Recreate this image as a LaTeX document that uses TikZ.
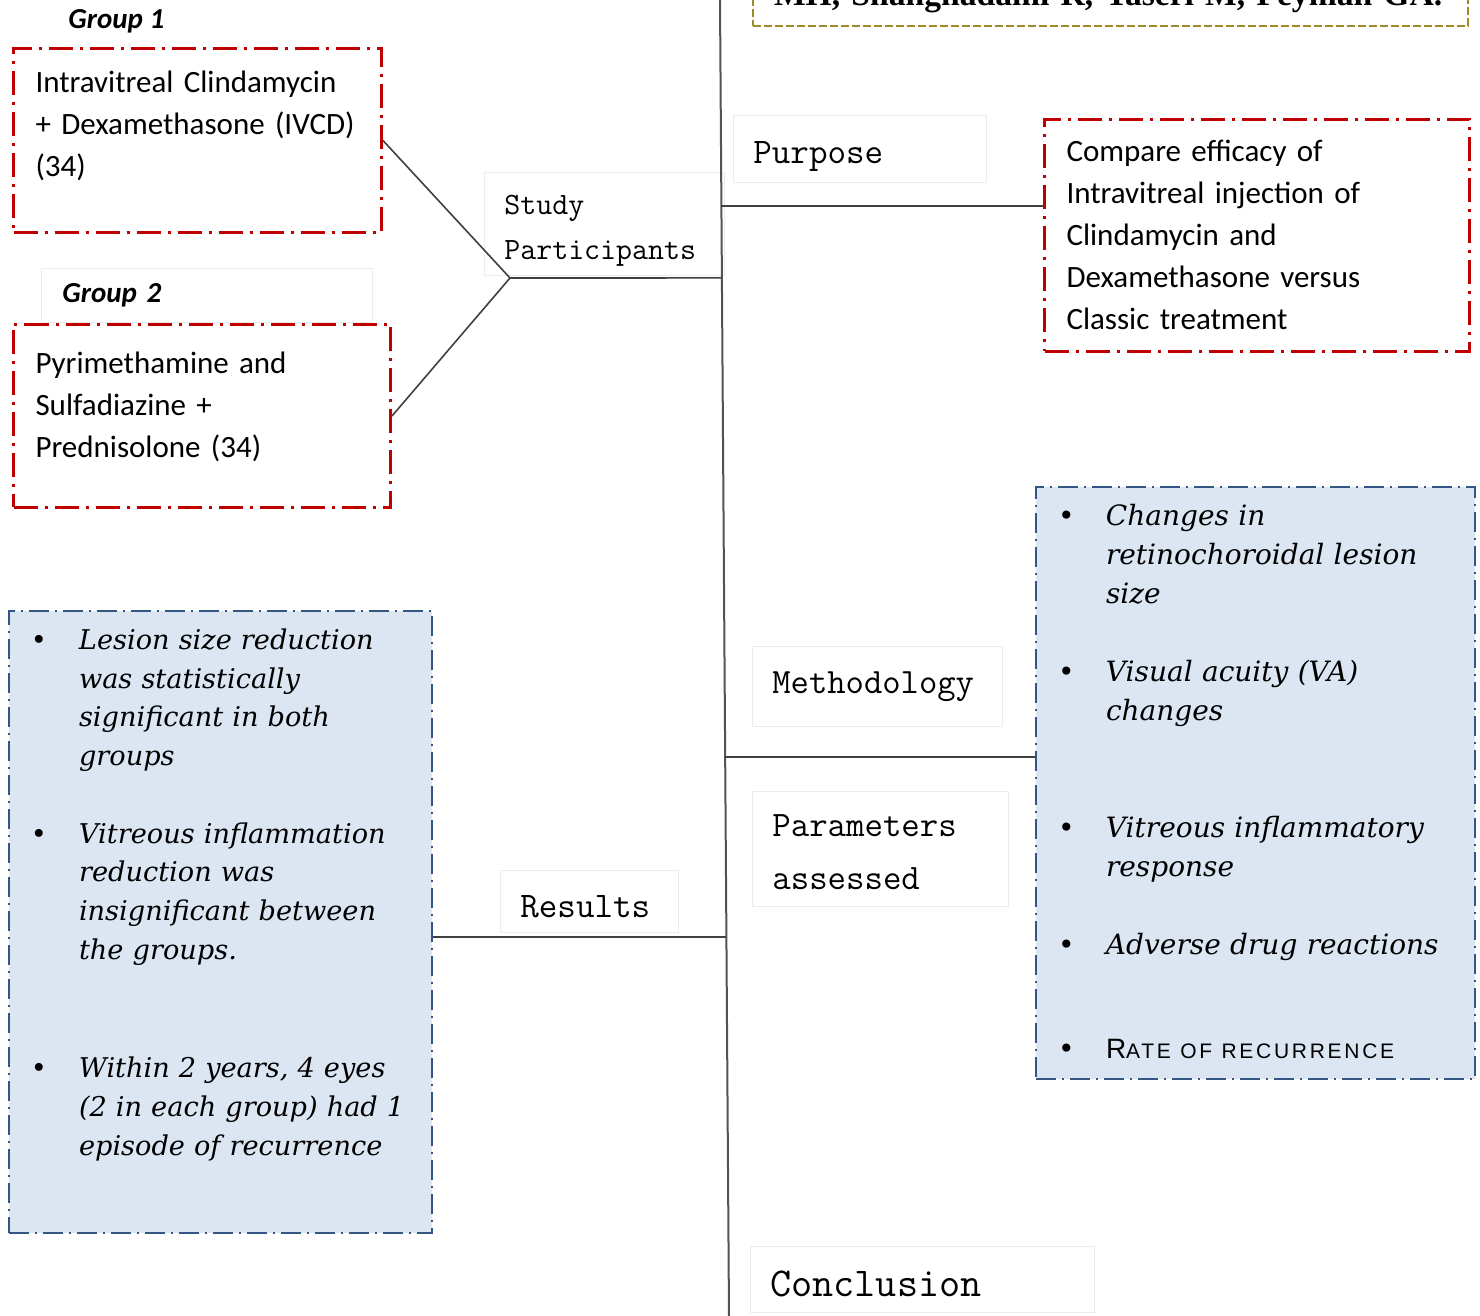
\documentclass[tikz,border=0pt]{standalone}
\usepackage{fontspec}
\setmainfont{Carlito}
\newfontfamily\notefont{DejaVu Serif}
\newfontfamily\authorfont{Liberation Serif}
\newfontfamily\capsfont[LetterSpace=13]{Liberation Sans}
\usepackage{tikz}
\usetikzlibrary{positioning,calc}
\definecolor{BoxRed}{RGB}{192,0,0}
\definecolor{BoxBlue}{RGB}{52,86,130}
\definecolor{PaleBlue}{RGB}{220,230,242}
\definecolor{AuthOlive}{RGB}{158,138,38}
\definecolor{LineGray}{RGB}{64,64,64}

% bullet and hanging indent for the lists
\newcommand{\bul}{\makebox[25pt][l]{\hspace{1pt}\textbullet}}
\newcommand{\ind}{\hspace*{25pt}}
\newcommand{\headfont}{\ttfamily\addfontfeature{FakeBold=1.2}}

\begin{document}
\begin{tikzpicture}[
    x=0.5pt, y=-0.5pt,
    drugbox/.style={rectangle, draw=BoxRed, line width=1.5pt,
        dash pattern=on 12pt off 3.5pt on 1.5pt off 3.5pt,
        anchor=north west, align=left, inner xsep=11pt, inner ysep=10pt,
        font=\fontsize{15.5}{21}\selectfont},
    findbox/.style={rectangle, draw=BoxBlue, fill=PaleBlue, line width=1pt,
        dash pattern=on 10pt off 3pt on 1pt off 3pt,
        anchor=north west, align=left, inner xsep=10pt, inner ysep=10pt,
        font=\notefont\itshape\fontsize{14}{19.5}\selectfont},
    headbox/.style={rectangle, draw=gray!15, fill=white, anchor=north west,
        align=left, inner xsep=10pt, inner ysep=0pt},
    grp/.style={headbox, inner xsep=10.5pt, font=\bfseries\itshape\fontsize{14.5}{17}\selectfont},
    authbox/.style={rectangle, draw=AuthOlive, line width=1pt, dash pattern=on 4pt off 1.5pt,
        anchor=south west, align=left, inner xsep=10.5pt, inner ysep=10pt, text depth=0pt,
        font=\authorfont\bfseries\fontsize{16.8}{20}\selectfont},
    link/.style={draw=LineGray, line width=0.8pt},
    spine/.style={draw=LineGray!90, line width=1pt}
]
\clip (0,0) rectangle (1480,1316);
\fill[white] (0,0) rectangle (1480,1316);

% citation box, cut by the top edge
\node[authbox, text width=336.5pt] (auth) at (752,27) {MH, Shahghadami R, Yaseri M, Peyman GA.};

% groups
\node[grp, draw=none, anchor=west, minimum height=27pt] (lab1) at (47,21) {Group 1};
\node[drugbox, text width=162pt, text height=12pt, text depth=60pt] (g1) at (12,47)
    {Intravitreal Clindamycin\\+ Dexamethasone (IVCD)\\(34)};
\node[grp, text width=144.5pt, minimum height=27pt] (lab2) at (41,268) {Group 2};
\node[drugbox, text width=166.5pt, text height=14.5pt, text depth=57pt] (g2) at (12,323)
    {Pyrimethamine and\\Sulfadiazine +\\Prednisolone (34)};

% headings
\node[headbox, text width=100pt, minimum height=51.5pt, text height=16.6pt, text depth=25.9pt,
    font=\headfont\fontsize{15.5}{22.5}\selectfont] (part) at (484,172) {Study\\Participants};
\node[headbox, text width=106.5pt, minimum height=33.5pt, text height=15.5pt, text depth=1pt,
    font=\headfont\fontsize{18}{22}\selectfont] (purp) at (733,115) {Purpose};
\node[headbox, text width=105pt, minimum height=40pt,
    font=\headfont\fontsize{17.8}{22}\selectfont] (meth) at (752,646) {Methodology};
\node[headbox, below=32pt of meth.south west, anchor=north west, text width=108pt, minimum height=57.5pt,
    text height=14.5pt, text depth=26.5pt, font=\headfont\fontsize{17.9}{26.5}\selectfont] (param) {Parameters\\assessed};
\node[headbox, text width=69pt, minimum height=31pt, text height=17pt, text depth=1pt,
    font=\headfont\fontsize{18}{22}\selectfont] (res) at (500,870) {Results};
\node[headbox, text width=152pt, minimum height=33pt, text height=18.5pt, text depth=1pt,
    font=\headfont\fontsize{20.5}{24}\selectfont] (concl) at (750,1246) {Conclusion};

% aim
\node[drugbox, text width=190.5pt, text height=11pt, text depth=85pt] (aim) at (1043,118)
    {Compare efficacy of\\Intravitreal injection of\\Clindamycin and\\Dexamethasone versus\\Classic treatment};

% parameters list
\node[findbox, text width=199.5pt, text height=9.5pt, text depth=266.5pt] (plist) at (1035,486)
    {\bul Changes in\\
     \ind retinochoroidal lesion\\
     \ind size\\[19.5pt]
     \bul Visual acuity (VA)\\
     \ind changes\\[39pt]
     \bul Vitreous inflammatory\\
     \ind response\\[19.5pt]
     \bul \mbox{Adverse drug reactions}\\[32.5pt]
     \bul {\capsfont\upshape\fontsize{14}{17}\selectfont R\fontsize{10.5}{17}\selectfont ATE OF RECURRENCE}};

% results list
\node[findbox, text width=191.5pt, text height=9pt, text depth=282pt,
    font=\notefont\itshape\fontsize{13.6}{19.5}\selectfont] (rlist) at (8,610)
    {\bul Lesion size reduction\\
     \ind was statistically\\
     \ind significant in both\\
     \ind groups\\[19pt]
     \bul \mbox{Vitreous inflammation}\\
     \ind reduction was\\
     \ind \mbox{insignificant between}\\
     \ind the groups.\\[39.5pt]
     \bul Within 2 years, 4 eyes\\
     \ind \mbox{(2 in each group) had 1}\\
     \ind episode of recurrence};

% main axis and branches
\coordinate (top) at (720,0);
\coordinate (bot) at (729,1316);
\draw[spine] (top) -- (bot);
\coordinate (jn) at (510,278);
\coordinate (sp0) at ($(top)!0.2112!(bot)$);
\coordinate (sp1) at ($(top)!0.1565!(bot)$);
\coordinate (sp2) at ($(top)!0.5752!(bot)$);
\coordinate (sp3) at ($(top)!0.712!(bot)$);
\draw[link] (g1.east) -- (jn);
\draw[link] (g2.east) -- (jn);
\draw[link] (jn) -- (sp0);
\draw[link] (sp1) -- (sp1 -| aim.west);
\draw[link] (sp2) -- (sp2 -| plist.west);
\draw[link] (rlist.east |- sp3) -- (sp3);
\end{tikzpicture}
\end{document}
